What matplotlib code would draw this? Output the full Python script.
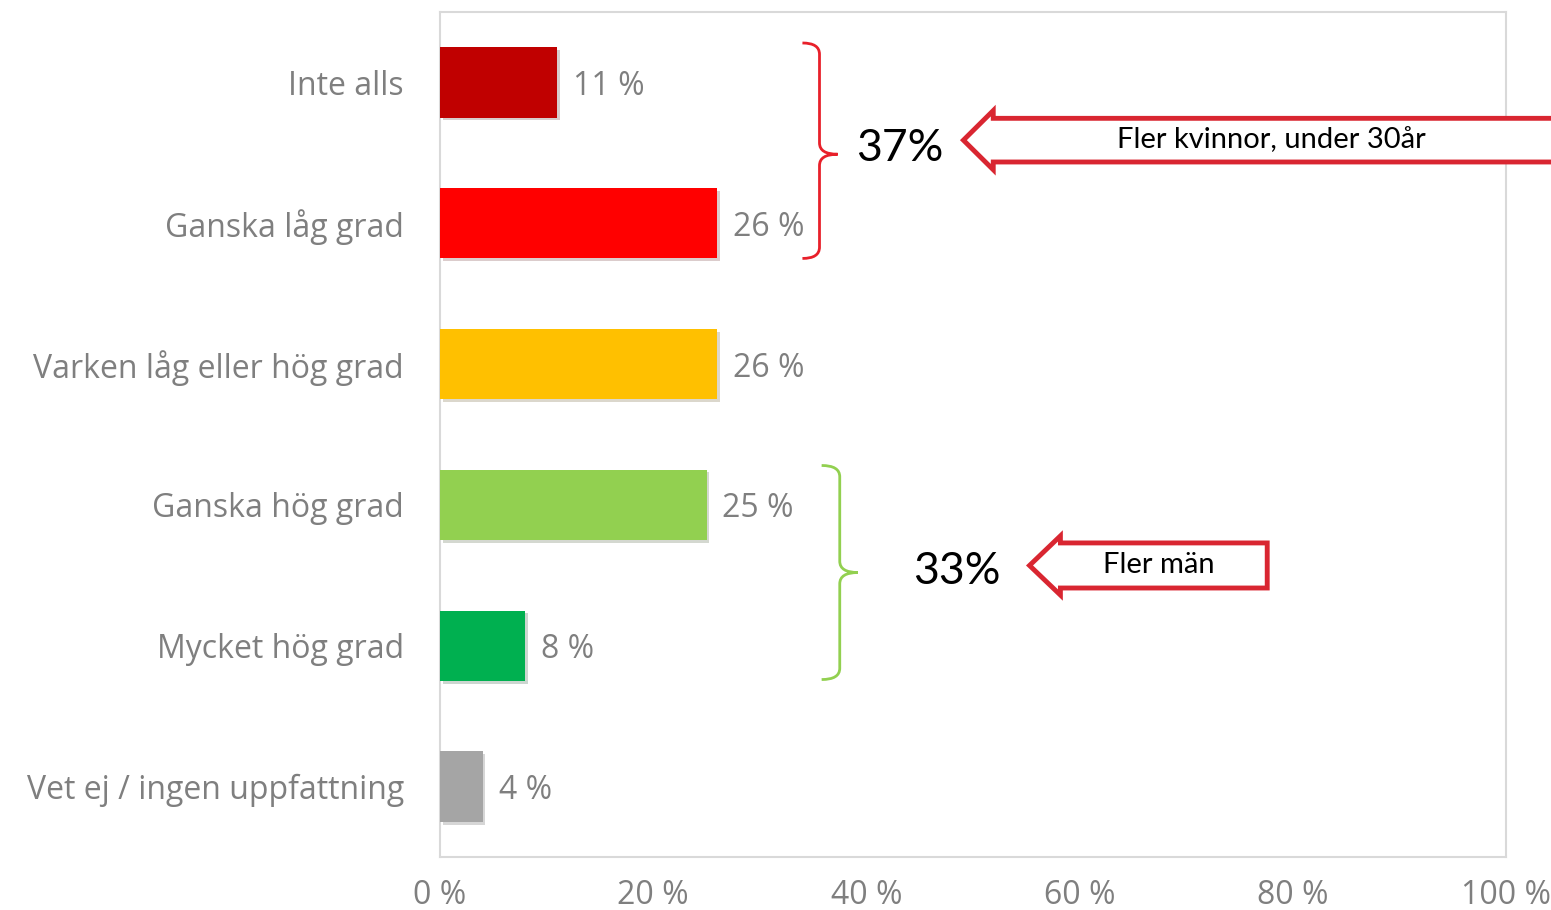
import matplotlib.pyplot as plt
import matplotlib.patheffects as pe
from matplotlib.path import Path
from matplotlib.patches import PathPatch, Polygon

# data
categories = ['Inte alls', 'Ganska låg grad', 'Varken låg eller hög grad',
              'Ganska hög grad', 'Mycket hög grad', 'Vet ej / ingen uppfattning']
values = [11, 26, 26, 25, 8, 4]
colors = ['#C00000', '#FF0000', '#FFC000', '#92D050', '#00B050', '#A5A5A5']
xticks = [0, 20, 40, 60, 80, 100]
xticklabels = ['0 %', '20 %', '40 %', '60 %', '80 %', '100 %']

plt.rcParams['font.family'] = ['Open Sans', 'DejaVu Sans']
grey = '#7F7F7F'
red = '#D92631'

fig = plt.figure(figsize=(15.51, 9.10), dpi=100)
ax = fig.add_axes([440/1551, 1-857/910, 1066/1551, 845/910])

y = list(range(len(categories)))
bars = ax.barh(y, values, height=0.5, color=colors, zorder=3)
for b in bars:
    b.set_path_effects([pe.SimplePatchShadow(offset=(2, -2), alpha=0.2), pe.Normal()])
for yi, v in zip(y, values):
    ax.text(v + 1.5, yi, f'{v} %', va='center_baseline', ha='left', fontsize=23, color=grey)

ax.set_xlim(0, 100)
ax.set_ylim(5.5, -0.5)
ax.set_yticks(y)
ax.set_yticklabels(categories, fontsize=23, color=grey)
ax.set_xticks(xticks)
ax.set_xticklabels(xticklabels, fontsize=23, color=grey)
ax.tick_params(length=0)
ax.tick_params(axis='y', pad=26)
ax.tick_params(axis='x', pad=16)
for s in ax.spines.values():
    s.set_color('#D9D9D9')
    s.set_linewidth(1.5)


def brace(x0, xv, xt, top, mid, bot, color):
    r = 0.08
    verts = [(x0, top), (xv, top), (xv, top + r),
             (xv, mid - r), (xv, mid), (xt, mid),
             (xv, mid), (xv, mid + r),
             (xv, bot - r), (xv, bot), (x0, bot)]
    codes = [Path.MOVETO, Path.CURVE3, Path.CURVE3,
             Path.LINETO, Path.CURVE3, Path.CURVE3,
             Path.CURVE3, Path.CURVE3,
             Path.LINETO, Path.CURVE3, Path.CURVE3]
    ax.add_patch(PathPatch(Path(verts, codes), fill=False, edgecolor=color, lw=2,
                           clip_on=False, zorder=4))


def arrow(xtip, xbase, xend, ymid, hb, hh):
    pts = [(xtip, ymid), (xbase, ymid - hh), (xbase, ymid - hb), (xend, ymid - hb),
           (xend, ymid + hb), (xbase, ymid + hb), (xbase, ymid + hh)]
    ax.add_patch(Polygon(pts, closed=True, facecolor='white', edgecolor=red, lw=3.5,
                         joinstyle='miter', clip_on=False, zorder=4))


brace(34.0, 35.6, 37.3, -0.28, 0.51, 1.25, '#E8202A')
brace(35.8, 37.5, 39.2, 2.72, 3.48, 4.24, '#92D050')

ax.text(43.1, 0.47, '37%', fontsize=32, color='black', ha='center', va='center', family='Lato')
ax.text(48.5, 3.47, '33%', fontsize=32, color='black', ha='center', va='center', family='Lato')

arrow(49.1, 51.9, 106, 0.41, 0.155, 0.21)
ax.text(78.0, 0.41, 'Fler kvinnor, under 30år', fontsize=21, ha='center', va='center',
        family='Lato', zorder=5)
arrow(55.3, 58.2, 77.6, 3.43, 0.16, 0.21)
ax.text(67.4, 3.43, 'Fler män', fontsize=21, ha='center', va='center', family='Lato', zorder=5)

fig.savefig('out.png', dpi=100)
